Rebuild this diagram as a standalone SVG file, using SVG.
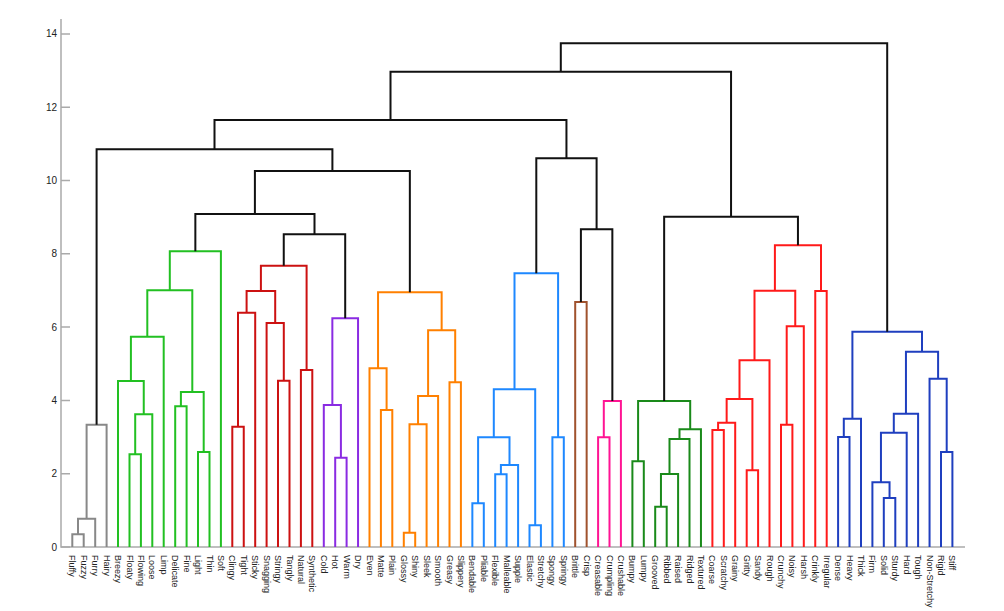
<svg xmlns="http://www.w3.org/2000/svg" width="1004" height="611" viewBox="0 0 1004 611">
<style>
.ax{stroke:#aaaaaa;stroke-width:1.5;fill:none}
.tk{font-family:"Liberation Sans",Arial,sans-serif;font-size:10px;fill:#222;text-anchor:end;dominant-baseline:central}
.lb{font-family:"Liberation Sans",Arial,sans-serif;font-size:9px;fill:#222;dominant-baseline:central}
.l path{fill:none;stroke-width:2}
.k{stroke:#111}
.c0{stroke:#888888}
.c1{stroke:#22c022}
.c2{stroke:#cc1111}
.c3{stroke:#8a2be2}
.c4{stroke:#ff8000}
.c5{stroke:#1e88ff}
.c6{stroke:#a0522d}
.c7{stroke:#ff1493}
.c8{stroke:#1a8a1a}
.c9{stroke:#ff1a1a}
.c10{stroke:#1f3fbf}
</style>
<rect width="1004" height="611" fill="#ffffff"/>
<g id="axis">
<path class="ax" d="M61 19V547H965"/>
<path class="ax" d="M61 547H70M61 473.7H70M61 400.4H70M61 327.1H70M61 253.8H70M61 180.5H70M61 107.2H70M61 33.9H70"/>
<text class="tk" x="57" y="547">0</text>
<text class="tk" x="57" y="473.7">2</text>
<text class="tk" x="57" y="400.4">4</text>
<text class="tk" x="57" y="327.1">6</text>
<text class="tk" x="57" y="253.8">8</text>
<text class="tk" x="57" y="180.5">10</text>
<text class="tk" x="57" y="107.2">12</text>
<text class="tk" x="57" y="33.9">14</text>
</g>
<g id="connectors" class="l">
<path class="c0" d="M72.3 547V534.3H83.7V547"/>
<path class="c0" d="M78 534.3V518.7H95.2V547"/>
<path class="c0" d="M86.6 518.7V424.7H106.6V547"/>
<path class="c1" d="M129.5 547V454.3H140.9V547"/>
<path class="c1" d="M135.2 454.3V414.3H152.3V547"/>
<path class="c1" d="M118 547V381H143.75V414.3"/>
<path class="c1" d="M130.9 381V336.7H163.7V547"/>
<path class="c1" d="M175.2 547V406.3H186.6V547"/>
<path class="c1" d="M198 547V452H209.5V547"/>
<path class="c1" d="M180.9 406.3V392H203.7V452"/>
<path class="c1" d="M147.3 336.7V290.3H192.3V392"/>
<path class="c1" d="M169.8 290.3V251.3H220.9V547"/>
<path class="c2" d="M232.3 547V426.7H243.75V547"/>
<path class="c2" d="M238 426.7V312.7H255.2V547"/>
<path class="c2" d="M278 547V380.7H289.5V547"/>
<path class="c2" d="M266.6 547V323H283.8V380.7"/>
<path class="c2" d="M246.6 312.7V291H275.2V323"/>
<path class="c2" d="M300.9 547V370H312.3V547"/>
<path class="c2" d="M260.9 291V265.7H306.6V370"/>
<path class="c3" d="M335.2 547V457.7H346.6V547"/>
<path class="c3" d="M323.8 547V405H340.9V457.7"/>
<path class="c3" d="M332.35 405V318.3H358.05V547"/>
<path class="k" d="M283.75 265.7V234.3H345.2V318.3"/>
<path class="k" d="M195.35 251.3V214H314.5V234.3"/>
<path class="c4" d="M380.9 547V410H392.3V547"/>
<path class="c4" d="M369.5 547V368.3H386.6V410"/>
<path class="c4" d="M403.8 547V532.7H415.2V547"/>
<path class="c4" d="M409.5 532.7V424.3H426.6V547"/>
<path class="c4" d="M418.05 424.3V396H438.1V547"/>
<path class="c4" d="M449.5 547V382.3H460.9V547"/>
<path class="c4" d="M428.1 396V330.3H455.2V382.3"/>
<path class="c4" d="M378.05 368.3V292.3H441.65V330.3"/>
<path class="k" d="M254.9 214V171H409.85V292.3"/>
<path class="k" d="M96.6 424.7V149.3H332.4V171"/>
<path class="c5" d="M472.35 547V503.3H483.8V547"/>
<path class="c5" d="M495.2 547V474.3H506.6V547"/>
<path class="c5" d="M500.9 474.3V465H518.1V547"/>
<path class="c5" d="M478.1 503.3V437.3H509.5V465"/>
<path class="c5" d="M529.5 547V525.3H540.9V547"/>
<path class="c5" d="M493.8 437.3V389.3H535.2V525.3"/>
<path class="c5" d="M552.4 547V437.3H563.8V547"/>
<path class="c5" d="M514.5 389.3V273.3H558.1V437.3"/>
<path class="c6" d="M575.2 547V302H586.65V547"/>
<path class="c7" d="M598.1 547V437.3H609.5V547"/>
<path class="c7" d="M603.8 437.3V401H620.9V547"/>
<path class="k" d="M580.9 302V229.3H612.35V401"/>
<path class="k" d="M536.3 273.3V158.3H596.6V229.3"/>
<path class="k" d="M214.5 149.3V120H566.45V158.3"/>
<path class="c8" d="M632.4 547V461.3H643.8V547"/>
<path class="c8" d="M655.2 547V506.7H666.7V547"/>
<path class="c8" d="M660.95 506.7V474H678.1V547"/>
<path class="c8" d="M669.5 474V439H689.5V547"/>
<path class="c8" d="M679.5 439V429.3H700.95V547"/>
<path class="c8" d="M638.1 461.3V401H690.2V429.3"/>
<path class="c9" d="M712.4 547V430H723.8V547"/>
<path class="c9" d="M718.1 430V422.7H735.2V547"/>
<path class="c9" d="M746.7 547V470.3H758.1V547"/>
<path class="c9" d="M726.65 422.7V399H752.4V470.3"/>
<path class="c9" d="M739.5 399V360.3H769.5V547"/>
<path class="c9" d="M781 547V424.7H792.4V547"/>
<path class="c9" d="M786.7 424.7V326.3H803.8V547"/>
<path class="c9" d="M754.5 360.3V290.7H795.25V326.3"/>
<path class="c9" d="M815.25 547V291H826.7V547"/>
<path class="c9" d="M774.9 290.7V245.3H821V291"/>
<path class="k" d="M664.15 401V216.7H797.95V245.3"/>
<path class="k" d="M390.5 120V71.7H731.05V216.7"/>
<path class="c10" d="M838.1 547V437H849.5V547"/>
<path class="c10" d="M843.8 437V418.7H861V547"/>
<path class="c10" d="M883.8 547V498H895.3V547"/>
<path class="c10" d="M872.4 547V482.3H889.55V498"/>
<path class="c10" d="M880.95 482.3V432.7H906.7V547"/>
<path class="c10" d="M893.8 432.7V413.7H918.1V547"/>
<path class="c10" d="M941 547V452H952.4V547"/>
<path class="c10" d="M929.55 547V378.7H946.7V452"/>
<path class="c10" d="M905.95 413.7V351.7H938.1V378.7"/>
<path class="c10" d="M852.4 418.7V331.7H922V351.7"/>
<path class="k" d="M560.8 71.7V43.3H887.2V331.7"/>
</g>
<g id="leaves">
<g id="n-fluffy"><text class="lb" transform="translate(72.3,555) rotate(90)">Fluffy</text></g>
<g id="n-fuzzy"><text class="lb" transform="translate(83.7,555) rotate(90)">Fuzzy</text></g>
<g id="n-furry"><text class="lb" transform="translate(95.2,555) rotate(90)">Furry</text></g>
<g id="n-hairy"><text class="lb" transform="translate(106.6,555) rotate(90)">Hairy</text></g>
<g id="n-breezy"><text class="lb" transform="translate(118,555) rotate(90)">Breezy</text></g>
<g id="n-floaty"><text class="lb" transform="translate(129.5,555) rotate(90)">Floaty</text></g>
<g id="n-flowing"><text class="lb" transform="translate(140.9,555) rotate(90)">Flowing</text></g>
<g id="n-loose"><text class="lb" transform="translate(152.3,555) rotate(90)">Loose</text></g>
<g id="n-limp"><text class="lb" transform="translate(163.7,555) rotate(90)">Limp</text></g>
<g id="n-delicate"><text class="lb" transform="translate(175.2,555) rotate(90)">Delicate</text></g>
<g id="n-fine"><text class="lb" transform="translate(186.6,555) rotate(90)">Fine</text></g>
<g id="n-light"><text class="lb" transform="translate(198,555) rotate(90)">Light</text></g>
<g id="n-thin"><text class="lb" transform="translate(209.5,555) rotate(90)">Thin</text></g>
<g id="n-soft"><text class="lb" transform="translate(220.9,555) rotate(90)">Soft</text></g>
<g id="n-clingy"><text class="lb" transform="translate(232.3,555) rotate(90)">Clingy</text></g>
<g id="n-tight"><text class="lb" transform="translate(243.75,555) rotate(90)">Tight</text></g>
<g id="n-sticky"><text class="lb" transform="translate(255.2,555) rotate(90)">Sticky</text></g>
<g id="n-snagging"><text class="lb" transform="translate(266.6,555) rotate(90)">Snagging</text></g>
<g id="n-stringy"><text class="lb" transform="translate(278,555) rotate(90)">Stringy</text></g>
<g id="n-tangly"><text class="lb" transform="translate(289.5,555) rotate(90)">Tangly</text></g>
<g id="n-natural"><text class="lb" transform="translate(300.9,555) rotate(90)">Natural</text></g>
<g id="n-synthetic"><text class="lb" transform="translate(312.3,555) rotate(90)">Synthetic</text></g>
<g id="n-cold"><text class="lb" transform="translate(323.8,555) rotate(90)">Cold</text></g>
<g id="n-hot"><text class="lb" transform="translate(335.2,555) rotate(90)">Hot</text></g>
<g id="n-warm"><text class="lb" transform="translate(346.6,555) rotate(90)">Warm</text></g>
<g id="n-dry"><text class="lb" transform="translate(358.05,555) rotate(90)">Dry</text></g>
<g id="n-even"><text class="lb" transform="translate(369.5,555) rotate(90)">Even</text></g>
<g id="n-matte"><text class="lb" transform="translate(380.9,555) rotate(90)">Matte</text></g>
<g id="n-plain"><text class="lb" transform="translate(392.3,555) rotate(90)">Plain</text></g>
<g id="n-glossy"><text class="lb" transform="translate(403.8,555) rotate(90)">Glossy</text></g>
<g id="n-shiny"><text class="lb" transform="translate(415.2,555) rotate(90)">Shiny</text></g>
<g id="n-sleek"><text class="lb" transform="translate(426.6,555) rotate(90)">Sleek</text></g>
<g id="n-smooth"><text class="lb" transform="translate(438.1,555) rotate(90)">Smooth</text></g>
<g id="n-greasy"><text class="lb" transform="translate(449.5,555) rotate(90)">Greasy</text></g>
<g id="n-slippery"><text class="lb" transform="translate(460.9,555) rotate(90)">Slippery</text></g>
<g id="n-bendable"><text class="lb" transform="translate(472.35,555) rotate(90)">Bendable</text></g>
<g id="n-pliable"><text class="lb" transform="translate(483.8,555) rotate(90)">Pliable</text></g>
<g id="n-flexible"><text class="lb" transform="translate(495.2,555) rotate(90)">Flexible</text></g>
<g id="n-malleable"><text class="lb" transform="translate(506.6,555) rotate(90)">Malleable</text></g>
<g id="n-supple"><text class="lb" transform="translate(518.1,555) rotate(90)">Supple</text></g>
<g id="n-elastic"><text class="lb" transform="translate(529.5,555) rotate(90)">Elastic</text></g>
<g id="n-stretchy"><text class="lb" transform="translate(540.9,555) rotate(90)">Stretchy</text></g>
<g id="n-spongy"><text class="lb" transform="translate(552.4,555) rotate(90)">Spongy</text></g>
<g id="n-springy"><text class="lb" transform="translate(563.8,555) rotate(90)">Springy</text></g>
<g id="n-brittle"><text class="lb" transform="translate(575.2,555) rotate(90)">Brittle</text></g>
<g id="n-crisp"><text class="lb" transform="translate(586.65,555) rotate(90)">Crisp</text></g>
<g id="n-creasable"><text class="lb" transform="translate(598.1,555) rotate(90)">Creasable</text></g>
<g id="n-crumpling"><text class="lb" transform="translate(609.5,555) rotate(90)">Crumpling</text></g>
<g id="n-crushable"><text class="lb" transform="translate(620.9,555) rotate(90)">Crushable</text></g>
<g id="n-bumpy"><text class="lb" transform="translate(632.4,555) rotate(90)">Bumpy</text></g>
<g id="n-lumpy"><text class="lb" transform="translate(643.8,555) rotate(90)">Lumpy</text></g>
<g id="n-grooved"><text class="lb" transform="translate(655.2,555) rotate(90)">Grooved</text></g>
<g id="n-ribbed"><text class="lb" transform="translate(666.7,555) rotate(90)">Ribbed</text></g>
<g id="n-raised"><text class="lb" transform="translate(678.1,555) rotate(90)">Raised</text></g>
<g id="n-ridged"><text class="lb" transform="translate(689.5,555) rotate(90)">Ridged</text></g>
<g id="n-textured"><text class="lb" transform="translate(700.95,555) rotate(90)">Textured</text></g>
<g id="n-coarse"><text class="lb" transform="translate(712.4,555) rotate(90)">Coarse</text></g>
<g id="n-scratchy"><text class="lb" transform="translate(723.8,555) rotate(90)">Scratchy</text></g>
<g id="n-grainy"><text class="lb" transform="translate(735.2,555) rotate(90)">Grainy</text></g>
<g id="n-gritty"><text class="lb" transform="translate(746.7,555) rotate(90)">Gritty</text></g>
<g id="n-sandy"><text class="lb" transform="translate(758.1,555) rotate(90)">Sandy</text></g>
<g id="n-rough"><text class="lb" transform="translate(769.5,555) rotate(90)">Rough</text></g>
<g id="n-crunchy"><text class="lb" transform="translate(781,555) rotate(90)">Crunchy</text></g>
<g id="n-noisy"><text class="lb" transform="translate(792.4,555) rotate(90)">Noisy</text></g>
<g id="n-harsh"><text class="lb" transform="translate(803.8,555) rotate(90)">Harsh</text></g>
<g id="n-crinkly"><text class="lb" transform="translate(815.25,555) rotate(90)">Crinkly</text></g>
<g id="n-irregular"><text class="lb" transform="translate(826.7,555) rotate(90)">Irregular</text></g>
<g id="n-dense"><text class="lb" transform="translate(838.1,555) rotate(90)">Dense</text></g>
<g id="n-heavy"><text class="lb" transform="translate(849.5,555) rotate(90)">Heavy</text></g>
<g id="n-thick"><text class="lb" transform="translate(861,555) rotate(90)">Thick</text></g>
<g id="n-firm"><text class="lb" transform="translate(872.4,555) rotate(90)">Firm</text></g>
<g id="n-solid"><text class="lb" transform="translate(883.8,555) rotate(90)">Solid</text></g>
<g id="n-sturdy"><text class="lb" transform="translate(895.3,555) rotate(90)">Sturdy</text></g>
<g id="n-hard"><text class="lb" transform="translate(906.7,555) rotate(90)">Hard</text></g>
<g id="n-tough"><text class="lb" transform="translate(918.1,555) rotate(90)">Tough</text></g>
<g id="n-nonstretchy"><text class="lb" transform="translate(929.55,555) rotate(90)">Non-Stretchy</text></g>
<g id="n-rigid"><text class="lb" transform="translate(941,555) rotate(90)">Rigid</text></g>
<g id="n-stiff"><text class="lb" transform="translate(952.4,555) rotate(90)">Stiff</text></g>
</g>
</svg>
